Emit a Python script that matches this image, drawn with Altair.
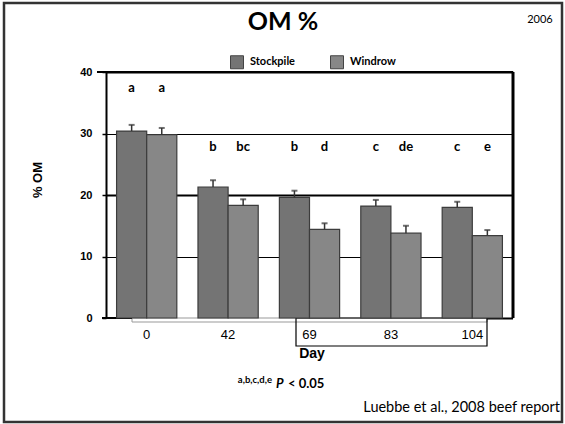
import altair as alt
import pandas as pd

days = ["0", "42", "69", "83", "104"]
series = ["Stockpile", "Windrow"]
stockpile = [30.4, 21.3, 19.6, 18.2, 18.0]
windrow = [29.8, 18.3, 14.4, 13.8, 13.4]
stockpile_se = [1.0, 1.1, 1.1, 1.0, 0.9]
windrow_se = [1.1, 1.0, 1.0, 1.2, 0.9]
stockpile_letters = ["a", "b", "b", "c", "c"]
windrow_letters = ["a", "bc", "d", "de", "e"]
letter_heights = [37.4, 27.8, 27.8, 27.8, 27.8]
colors = ["#747474", "#878787"]
y_ticks = [0, 10, 20, 30, 40]

rows = []
for i, d in enumerate(days):
    rows.append(dict(day=d, series="Stockpile", value=stockpile[i], hi=stockpile[i] + stockpile_se[i],
                     letter=stockpile_letters[i], ly=letter_heights[i]))
    rows.append(dict(day=d, series="Windrow", value=windrow[i], hi=windrow[i] + windrow_se[i],
                     letter=windrow_letters[i], ly=letter_heights[i]))
df = pd.DataFrame(rows)

W, H = 407, 246
yscale = alt.Scale(domain=[0, 40], nice=False)

x = alt.X("day:N", sort=days, title=None,
          scale=alt.Scale(domain=days, paddingInner=0.26, paddingOuter=0.13),
          axis=alt.Axis(domain=False, ticks=False, labelAngle=0, labelFont="Liberation Sans",
                        labelFontSize=13, labelColor="black", labelPadding=10, grid=False))
xo = alt.XOffset("series:N", sort=series,
                 scale=alt.Scale(domain=series, paddingInner=0, paddingOuter=0))

yaxis = alt.Axis(values=y_ticks, domainColor="black", domainWidth=2, tickColor="black",
                 tickSize=4, tickWidth=1.5, labelFont="Liberation Sans", labelFontWeight="bold",
                 labelFontSize=11, labelColor="black", labelPadding=10, grid=True,
                 gridColor="black",
                 gridWidth={"condition": {"test": "datum.value == 20 || datum.value == 40", "value": 2}, "value": 1},
                 gridOpacity={"condition": {"test": "datum.value == 0", "value": 0}, "value": 1})

base = alt.Chart(df)

bars = base.mark_bar(stroke="#3c3c3c", strokeWidth=1.2).encode(
    x=x, xOffset=xo,
    y=alt.Y("value:Q", scale=yscale, title=None, axis=yaxis),
    color=alt.Color("series:N", sort=series, scale=alt.Scale(domain=series, range=colors),
                    legend=alt.Legend(orient="none", legendX=124, legendY=-17, direction="horizontal",
                                      title=None, symbolType="square", symbolSize=169,
                                      symbolStrokeColor="#444", symbolStrokeWidth=1,
                                      symbolOpacity=1, labelFont="Lato", labelFontWeight="bold",
                                      labelFontSize=11, labelColor="black", columnPadding=33,
                                      labelOffset=6, padding=0)),
)

err = base.mark_rule(color="#333333", strokeWidth=1.5).encode(
    x=x, xOffset=xo,
    y=alt.Y("value:Q", scale=yscale, title=None, axis=yaxis),
    y2="hi:Q",
)
caps = base.mark_tick(color="#333333", thickness=2, size=6).encode(
    x=x, xOffset=xo,
    y=alt.Y("hi:Q", scale=yscale, title=None, axis=yaxis),
)
letters = base.mark_text(font="Lato", fontWeight="bold", fontSize=13, baseline="middle", color="black").encode(
    x=x, xOffset=xo,
    y=alt.Y("ly:Q", scale=yscale, title=None, axis=yaxis),
    text="letter:N",
)

one = alt.Chart(pd.DataFrame({"k": [0]}))

frame = one.mark_rect(fillOpacity=0, stroke="#333333", strokeWidth=2.5).encode(
    x=alt.value(-102), x2=alt.value(456), y=alt.value(-69), y2=alt.value(350))
right_line = one.mark_rule(color="black", strokeWidth=3).encode(
    x=alt.value(W), y=alt.value(0), y2=alt.value(H))
top_line = one.mark_rule(color="black", strokeWidth=2).encode(
    x=alt.value(-9), x2=alt.value(W), y=alt.value(0))
base_left = one.mark_rule(color="black", strokeWidth=2).encode(
    x=alt.value(-4), x2=alt.value(26), y=alt.value(H))
base_right = one.mark_rule(color="black", strokeWidth=2).encode(
    x=alt.value(381), x2=alt.value(W), y=alt.value(H + 0.5))
strip = one.mark_rect(fill="white", stroke="#999999", strokeWidth=1).encode(
    x=alt.value(26), x2=alt.value(381), y=alt.value(H), y2=alt.value(H + 4))
box = one.mark_rect(fillOpacity=0, stroke="black", strokeWidth=1.2).encode(
    x=alt.value(190), x2=alt.value(381), y=alt.value(H), y2=alt.value(H + 28))


def label(txt, xv, yv, size, weight="normal", font="Lato", align="center", angle=0, style="normal"):
    kw = dict(font=font, fontSize=size, fontWeight=weight, align=align, baseline="middle",
              color="black", fontStyle=style)
    if angle:
        kw["angle"] = angle
    return one.mark_text(**kw).encode(x=alt.value(xv), y=alt.value(yv), text=alt.value(txt))


title = label("OM %", 177, -50, 25, "bold")
year = label("2006", 434, -52, 11)
ylab = label("% OM", -68, 108, 13, "bold", font="Liberation Sans", angle=270)
xlab = label("Day", 206, 282, 14, "bold", font="Liberation Sans")
sup = label("a,b,c,d,e", 166, 308, 9.5, "bold", align="right")
pval = label("P", 170, 312, 13, "bold", align="left", style="italic")
pval2 = label("< 0.05", 182, 312, 13, "bold", align="left")
cite = label("Luebbe et al., 2008 beef report", 454, 336, 14.5, align="right")

chart = alt.layer(
    frame, strip, box, top_line, right_line, base_left, base_right,
    bars, err, caps, letters,
    title, year, ylab, xlab, sup, pval, pval2, cite,
).properties(
    width=W, height=H,
    padding={"left": 106, "top": 72, "right": 52, "bottom": 106},
    autosize=alt.AutoSizeParams(type="none"),
).configure_view(stroke=None).configure(background="white")

chart.save("out.html", embed_options={"renderer": "svg", "actions": False})
